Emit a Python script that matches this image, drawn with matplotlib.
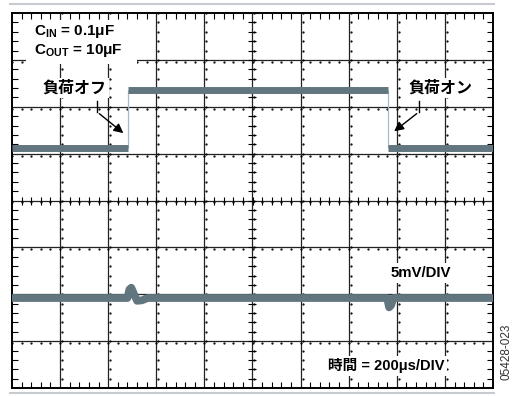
import numpy as np
import matplotlib.pyplot as plt
from matplotlib.patches import Rectangle
from matplotlib.lines import Line2D

plt.rcParams['font.family'] = ['Liberation Sans', 'Noto Sans CJK JP']
plt.rcParams['font.weight'] = 'bold'
plt.rcParams['mathtext.fontset'] = 'custom'
plt.rcParams['mathtext.rm'] = 'Liberation Sans:bold'

# upper trace: output level (div) between switching edges (div)
top_edges = [-5.0, -2.59, 2.82, 5.0]
top_levels = [1.12, 2.35, 1.12]

# lower trace: ripple with small transients at each load step
bot_t = [-5.0, -2.60, -2.56, -2.52, -2.47, -2.40, -2.30, -2.18, 2.80, 2.84, 2.88, 2.93, 5.0]
bot_v = [-2.08, -2.08, -1.90, -1.86, -1.98, -2.14, -2.13, -2.08, -2.08, -2.28, -2.24, -2.08, -2.08]

trace_col = '#627680'
edge_col = '#a8b8cc'

fig = plt.figure(figsize=(5.18, 3.96), dpi=100)
ax = fig.add_axes([12 / 518, 1 - 388 / 396, 481 / 518, 375 / 396])
ax.set_xlim(-5, 5)
ax.set_ylim(-4, 4)

# graticule
for x in range(-4, 5):
    ax.axvline(x, color='#222222', lw=0.9, zorder=1)
for y in range(-3, 4):
    ax.axhline(y, color='#222222', lw=0.9, zorder=1)
minor_x = np.arange(-5, 5.001, 0.2)
minor_y = np.arange(-4, 4.001, 0.2)
ax.plot(minor_x, np.zeros_like(minor_x), ls='none', marker='|', ms=6, mew=0.8, color='k', zorder=1)
ax.plot(np.zeros_like(minor_y), minor_y, ls='none', marker='_', ms=6, mew=0.8, color='k', zorder=1)
for x in range(-4, 5):
    ax.plot(np.full_like(minor_y, x + 0.04), minor_y, ls='none', marker='.', ms=1.2, color='k', zorder=1)
for y in range(-3, 4):
    ax.plot(minor_x, np.full_like(minor_x, y - 0.04), ls='none', marker='.', ms=1.2, color='k', zorder=1)

ax.set_xticks(range(-5, 6))
ax.set_yticks(range(-4, 5))
ax.set_xticks(minor_x, minor=True)
ax.set_yticks(minor_y, minor=True)
ax.tick_params(which='both', direction='in', top=True, right=True,
               labelbottom=False, labelleft=False, color='k')
ax.tick_params(which='major', length=0)
ax.tick_params(which='minor', length=4, width=0.8)
for s in ax.spines.values():
    s.set_linewidth(1.4)

# traces
ax.hlines(top_levels, top_edges[:-1], top_edges[1:], color=trace_col, lw=5.0, zorder=3)
ax.vlines(top_edges[1:-1], min(top_levels), max(top_levels), color=edge_col, lw=0.9, zorder=2)
ax.plot(bot_t, bot_v, color=trace_col, lw=5.6, solid_joinstyle='round', zorder=3)

# annotations
ax.add_patch(Rectangle((-4.70, 2.92), 2.30, 0.94, facecolor='white', edgecolor='none', zorder=4))
ax.text(-4.54, 3.60, r'C$_{\mathrm{IN}}$ = 0.1μF', fontsize=11, va='center', zorder=5)
ax.text(-4.54, 3.21, r'C$_{\mathrm{OUT}}$ = 10μF', fontsize=11, va='center', zorder=5)

box = dict(facecolor='white', edgecolor='none', pad=2)
ax.text(-3.71, 2.40, '負荷オフ', fontsize=11.5, ha='center', va='center', bbox=box, zorder=5)
ax.text(3.90, 2.40, '負荷オン', fontsize=11.5, ha='center', va='center', bbox=box, zorder=5)
ax.text(3.50, -1.54, '5mV/DIV', fontsize=10.8, ha='center', va='center', bbox=box, zorder=5)
ax.text(2.78, -3.53, '時間 = 200μs/DIV', fontsize=10.5, ha='center', va='center', bbox=box, zorder=5)

arrow = dict(arrowstyle='-|>', color='k', lw=1.0, mutation_scale=14)
ax.plot([-3.23, -3.23], [2.12, 1.89], color='k', lw=1.0, zorder=5)
ax.annotate('', xy=(-2.64, 1.40), xytext=(-3.23, 1.89), arrowprops=arrow, zorder=5)
ax.plot([3.46, 3.46], [2.12, 1.89], color='k', lw=1.0, zorder=5)
ax.annotate('', xy=(2.90, 1.44), xytext=(3.46, 1.89), arrowprops=arrow, zorder=5)

# outer frame lines
fig.add_artist(Line2D([10 / 518, 494 / 518], [1 - 4 / 396, 1 - 4 / 396], color='#c8ccd0', lw=1.5))
fig.add_artist(Line2D([10 / 518, 494 / 518], [1 - 393 / 396, 1 - 393 / 396], color='#c8ccd0', lw=1.5))

fig.text(507 / 518, 1 - 352 / 396, '05428-023', rotation=90, fontsize=8.5, fontweight='normal',
         color='#333333', ha='center', va='center')

fig.savefig('out.png', dpi=100)
